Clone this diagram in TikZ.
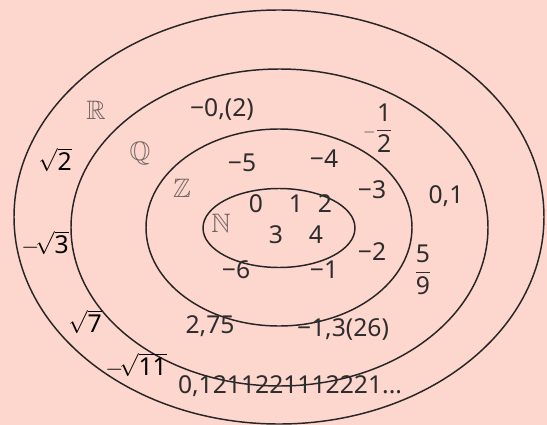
\documentclass[tikz,border=0pt]{standalone}
\usepackage{amssymb}
\usepackage{fontspec}
\setmainfont{Noto Sans}
\definecolor{bgpink}{RGB}{253,214,206}
\definecolor{txt}{RGB}{45,45,45}
\definecolor{bbgray}{RGB}{110,100,98}
\begin{document}
\begin{tikzpicture}[x=0.75pt,y=-0.75pt,
  ring/.style={draw=black!85,line width=1.1pt},
  num/.style={inner sep=0pt,text=txt,font=\fontsize{18.5}{22}\selectfont},
  rad/.style={inner sep=0pt,text=black,font=\fontsize{18.5}{22}\selectfont},
  setlbl/.style={inner sep=0pt,text=bbgray,font=\fontsize{20}{22}\selectfont}]
\fill[bgpink] (0,0) rectangle (547,425);
\useasboundingbox (0,0) rectangle (547,425);
\draw[ring] (279,217) ellipse [x radius=265, y radius=207];
\draw[ring] (279.5,227.5) ellipse [x radius=208.5, y radius=158.5];
\draw[ring] (279,227.5) ellipse [x radius=133, y radius=98.5];
\draw[ring] (279,228) ellipse [x radius=76, y radius=39.5];
% set labels
\node[setlbl] (R) at (96,110) {$\mathbb{R}$};
\node[setlbl] (Q) at (140,154) {$\mathbb{Q}$};
\node[setlbl] (Z) at (182,188) {$\mathbb{Z}$};
\node[setlbl] (N) at (221,223) {$\mathbb{N}$};
% irrationals
\node[rad] (s2) at (55,160) {$\sqrt{\mbox{2}}$};
\node[rad] (s3) at (45,243) {$-\!\sqrt{\mbox{3}}$};
\node[rad] (s7) at (85,322) {$\sqrt{\mbox{7}}$};
\node[rad] (s11) at (136,365) {$-\!\sqrt{\mbox{11}}$};
\node[num] (irr) at (290,386) {0,1211221112221...};
% rationals
\node[num] (q1) at (222,110) {−0,(2)};
\node[num] (q2) at (378,128) {$\displaystyle{\scriptstyle-}\frac{\mbox{1}}{\mbox{2}}$};
\node[num] (q3) at (446,196) {0,1};
\node[num] (q4) at (423,270) {$\displaystyle\frac{\mbox{5}}{\mbox{9}}$};
\node[num] (q5) at (210,326) {2,75};
\node[num] (q6) at (343,330) {−1,3(26)};
% integers
\node[num] (z5) at (242,163) {−5};
\node[num] (z4) at (324,159) {−4};
\node[num] (z3) at (372,190) {−3};
\node[num] (z2) at (372,252) {−2};
\node[num] (z6) at (236,270) {−6};
\node[num] (z1) at (324,270) {−1};
% naturals
\node[num] (n0) at (256,204) {0};
\node[num] (n1) at (296,204) {1};
\node[num] (n2) at (325,204) {2};
\node[num] (n3) at (276,235) {3};
\node[num] (n4) at (316,235) {4};
\end{tikzpicture}
\end{document}
